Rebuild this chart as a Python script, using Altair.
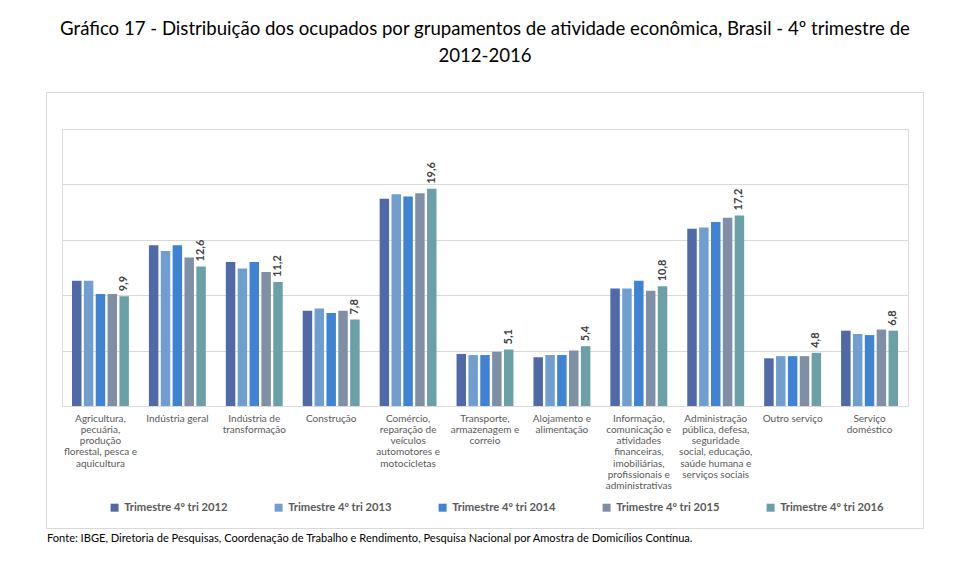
import altair as alt
import pandas as pd

# Category labels (wrapped lines as in the reference)
category_lines = [
    ["Agricultura,", "pecuária,", "produção", "florestal, pesca e", "aquicultura"],
    ["Indústria geral"],
    ["Indústria de", "transformação"],
    ["Construção"],
    ["Comércio,", "reparação de", "veículos", "automotores e", "motocicletas"],
    ["Transporte,", "armazenagem e", "correio"],
    ["Alojamento e", "alimentação"],
    ["Informação,", "comunicação e", "atividades", "financeiras,", "imobiliárias,", "profissionais e", "administrativas"],
    ["Administração", "pública, defesa,", "seguridade", "social, educação,", "saúde humana e", "serviços sociais"],
    ["Outro serviço"],
    ["Serviço", "doméstico"],
]
series_names = [
    "Trimestre 4º tri 2012",
    "Trimestre 4º tri 2013",
    "Trimestre 4º tri 2014",
    "Trimestre 4º tri 2015",
    "Trimestre 4º tri 2016",
]
v2012 = [11.3, 14.5, 13.0, 8.6, 18.7, 4.7, 4.4, 10.6, 16.0, 4.3, 6.8]
v2013 = [11.3, 14.0, 12.4, 8.8, 19.1, 4.6, 4.6, 10.6, 16.1, 4.5, 6.5]
v2014 = [10.1, 14.5, 13.0, 8.4, 18.9, 4.6, 4.6, 11.3, 16.6, 4.5, 6.4]
v2015 = [10.1, 13.4, 12.1, 8.6, 19.2, 4.9, 5.0, 10.4, 17.0, 4.5, 6.9]
v2016 = [9.9, 12.6, 11.2, 7.8, 19.6, 5.1, 5.4, 10.8, 17.2, 4.8, 6.8]
colors = ["#4f6aa7", "#6f9ecf", "#4183d3", "#808fa5", "#6ba0a9"]

title_lines = [
    "Gráfico 17 - Distribuição dos ocupados por grupamentos de atividade econômica, Brasil - 4º trimestre de",
    "2012-2016",
]
fonte = "Fonte: IBGE, Diretoria de Pesquisas, Coordenação de Trabalho e Rendimento, Pesquisa Nacional por Amostra de Domicílios Contínua."

cat_keys = ["|".join(lines) for lines in category_lines]
all_vals = [v2012, v2013, v2014, v2015, v2016]
rows = []
for s, vals in zip(series_names, all_vals):
    for c, v in zip(cat_keys, vals):
        rows.append({"cat": c, "serie": s, "valor": v})
df = pd.DataFrame(rows)

FONT = "Lato"

x_enc = alt.X(
    "cat:N",
    sort=cat_keys,
    scale=alt.Scale(paddingInner=0.26, paddingOuter=0.13),
    axis=alt.Axis(
        title=None, labelAngle=0, labelExpr="split(datum.label, '|')",
        labelFont=FONT, labelFontSize=10, labelColor="#595959",
        labelLineHeight=11.3, ticks=False, domain=False, labelPadding=7,
        labelBaseline="top", labelLimit=0, grid=False,
    ),
)
xoff_enc = alt.XOffset(
    "serie:N", sort=series_names,
    scale=alt.Scale(domain=series_names, paddingInner=0.2, paddingOuter=0),
)
y_enc = alt.Y(
    "valor:Q",
    scale=alt.Scale(domain=[0, 25], nice=False),
    axis=alt.Axis(
        values=[0, 5, 10, 15, 20, 25], labels=False, ticks=False, domain=False,
        title=None, gridColor="#d9d9d9", gridWidth=1.2,
    ),
)

bars = alt.Chart(df).mark_bar().encode(
    x=x_enc,
    xOffset=xoff_enc,
    y=y_enc,
    color=alt.Color(
        "serie:N", sort=series_names,
        scale=alt.Scale(domain=series_names, range=colors),
        legend=alt.Legend(
            orient="none", legendX=47, legendY=373, direction="horizontal",
            columns=5, title=None, symbolType="square", symbolSize=64,
            symbolStrokeWidth=0, labelFont=FONT, labelFontSize=11.2,
            labelFontWeight="bold", labelColor="#595959", columnPadding=45,
            labelLimit=0,
        ),
    ),
)

labels = alt.Chart(df).transform_filter(
    alt.datum.serie == series_names[-1]
).transform_calculate(
    lbl="replace(format(datum.valor, '.1f'), '.', ',')"
).mark_text(
    angle=270, align="left", baseline="middle", dx=5,
    font=FONT, fontSize=11, fontWeight="bold", color="#404040",
).encode(
    x=x_enc, xOffset=xoff_enc, y=y_enc, text="lbl:N",
)

frame = alt.Chart(pd.DataFrame({"k": [0]})).mark_rect(
    fillOpacity=0, stroke="#d9d9d9", strokeWidth=1
).encode(
    x=alt.value(-15.5), x2=alt.value(861.5), y=alt.value(-36.5), y2=alt.value(399.5)
)

footer = alt.Chart(pd.DataFrame({"t": [fonte]})).mark_text(
    align="left", baseline="middle", font=FONT, fontSize=11.1, color="#000000"
).encode(
    x=alt.value(-15), y=alt.value(410), text="t:N"
)

chart = alt.layer(frame, bars, labels, footer).properties(
    width=846,
    height=277,
    autosize=alt.AutoSizeParams(type="none"),
    padding={"left": 62, "top": 129, "right": 69, "bottom": 161},
    title=alt.TitleParams(
        text=title_lines, font=FONT, fontSize=18.6, fontWeight="normal",
        color="#000000", anchor="middle", offset=26, lineHeight=27,
    ),
).configure_view(stroke=None).configure(background="white")

chart.save("out.html", embed_options={"renderer": "svg", "actions": False})
